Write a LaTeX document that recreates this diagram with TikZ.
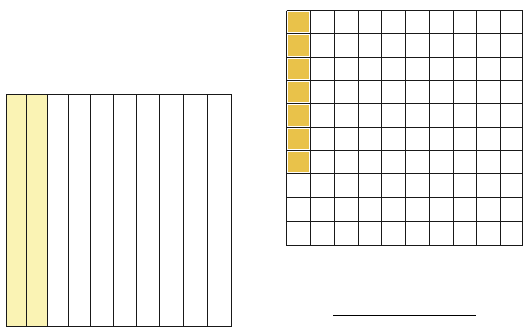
\documentclass[tikz,border=0pt]{standalone}
\definecolor{paleyel}{HTML}{FAF3B4}
\definecolor{goldcell}{HTML}{E9C24A}
\tikzset{gridline/.style={line width=1.8pt, draw=black!90}}
\begin{document}
\begin{tikzpicture}[x=1pt,y=-1pt]
\useasboundingbox (0,0) rectangle (523,330);
% left square with 10 strips
\fill[paleyel] (6.5,94.5) rectangle (47.5,326.5);
\foreach \x in {26.5,47.5,68.5,90.5,113.5,136.5,159.5,183.5,207.5} {
  \draw[gridline] (\x,94.5) -- (\x,326.5);
}
\draw[gridline] (6.5,94.5) rectangle (231.5,326.5);
% right 10x10 grid
\foreach \ya/\yb in {10.5/33.5,33.5/57.5,57.5/80.5,80.5/103.5,103.5/127.5,127.5/150.5,150.5/173.5} {
  \fill[goldcell] (288,\ya+1.5) rectangle (309,\yb-1.5);
}
\foreach \x in {286.5,310.5,334.5,358.5,381.5,405.5,429.5,453.5,476.5,500.5,522.5} {
  \draw[gridline] (\x,10.5) -- (\x,245.5);
}
\foreach \y in {10.5,33.5,57.5,80.5,103.5,127.5,150.5,173.5,197.5,221.5,245.5} {
  \draw[gridline] (286.5,\y) -- (522.5,\y);
}
% answer line
\draw[line width=1.2pt] (333,315.5) -- (476,315.5);
\end{tikzpicture}
\end{document}
